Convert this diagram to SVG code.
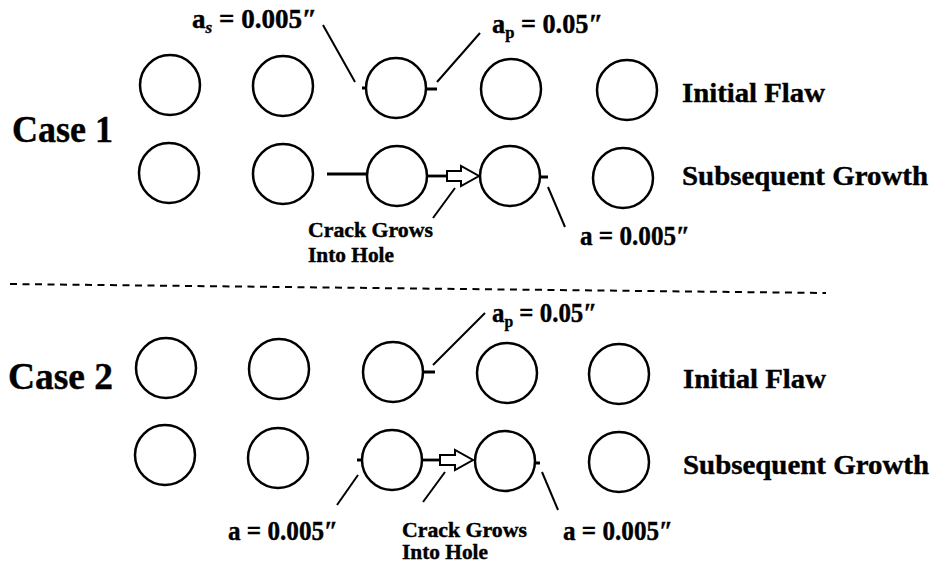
<svg xmlns="http://www.w3.org/2000/svg" width="930" height="563" viewBox="0 0 930 563" font-family="'Liberation Serif', 'DejaVu Serif', 'Times New Roman', serif">
<style>
  .hole { fill: none; stroke: #000; stroke-width: 2.5; }
  .lead { stroke: #000; stroke-width: 2; fill: none; }
  .tick { stroke: #000; stroke-width: 3; fill: none; }
  .crk { stroke: #000; stroke-width: 2.8; fill: none; }
  .arr { fill: #fff; stroke: #000; stroke-width: 2; stroke-linejoin: miter; }
  .dash { stroke: #000; stroke-width: 2; stroke-dasharray: 7 5.5; fill: none; }
  text { font-family: 'Liberation Serif', 'DejaVu Serif', 'Times New Roman', serif; font-weight: bold; fill: #000; stroke: #000; stroke-width: 0.4; }
  .lab { font-size: 27px; }
  .sub { font-size: 17px; }
  .crack { font-size: 20px; }
  .side { font-size: 28px; }
  .case { font-size: 38px; }
</style>
<rect width="930" height="563" fill="#fff"/>

<!-- Case 1 -->
<g id="case1-label"><text class="case" x="12" y="142" textLength="101" lengthAdjust="spacingAndGlyphs">Case 1</text></g>
<g id="case1-initial">
  <circle class="hole" cx="170" cy="85" r="30"/>
  <circle class="hole" cx="283" cy="86" r="30"/>
  <circle class="hole" cx="396" cy="88" r="30"/>
  <circle class="hole" cx="511" cy="89" r="30"/>
  <circle class="hole" cx="627" cy="90" r="30"/>
  <text class="side" x="682" y="102" textLength="143" lengthAdjust="spacingAndGlyphs">Initial Flaw</text>
</g>
<g id="case1-growth">
  <circle class="hole" cx="169" cy="173" r="30"/>
  <circle class="hole" cx="283" cy="174" r="30"/>
  <circle class="hole" cx="397" cy="176" r="30"/>
  <circle class="hole" cx="510" cy="176" r="30"/>
  <circle class="hole" cx="623" cy="178" r="30"/>
  <text class="side" x="682" y="185" textLength="246" lengthAdjust="spacingAndGlyphs">Subsequent Growth</text>
</g>
<g id="case1-labels">
  <text class="lab" x="192" y="28" textLength="125" lengthAdjust="spacingAndGlyphs">a<tspan class="sub" font-style="italic" dy="5">s</tspan><tspan dy="-5"> = 0.005″</tspan></text>
  <text class="lab" x="492" y="33" textLength="111" lengthAdjust="spacingAndGlyphs">a<tspan class="sub" dy="5">p</tspan><tspan dy="-5"> = 0.05″</tspan></text>
  <text class="crack" x="308" y="237" textLength="125" lengthAdjust="spacingAndGlyphs">Crack Grows</text>
  <text class="crack" x="308" y="262" textLength="86" lengthAdjust="spacingAndGlyphs">Into Hole</text>
  <text class="lab" x="580" y="245" textLength="110" lengthAdjust="spacingAndGlyphs">a = 0.005″</text>
</g>

<g id="connectors">
  <!-- Case 1 -->
  <line class="lead" x1="323" y1="25" x2="355" y2="82"/>
  <line class="lead" x1="437" y1="82" x2="480" y2="33"/>
  <line class="tick" x1="362" y1="88" x2="367" y2="88"/>
  <line class="tick" x1="426" y1="89" x2="437" y2="89"/>
  <line class="crk" x1="327" y1="174" x2="367" y2="174"/>
  <line class="crk" x1="427" y1="176" x2="447" y2="176"/>
  <polygon class="arr" points="447,171 461,171 461,166 479,176 461,186 461,181 447,181"/>
  <line class="tick" x1="540" y1="177" x2="548" y2="177"/>
  <line class="lead" x1="455" y1="188" x2="433" y2="218"/>
  <line class="lead" x1="548" y1="187" x2="565" y2="227"/>

  <!-- divider -->
  <line class="dash" x1="10" y1="284" x2="826" y2="293"/>

  <!-- Case 2 -->
  <line class="tick" x1="423" y1="372" x2="435" y2="372"/>
  <line class="lead" x1="433" y1="365" x2="485" y2="313"/>
  <line class="tick" x1="357" y1="460" x2="362" y2="460"/>
  <line class="crk" x1="422" y1="460" x2="440" y2="460"/>
  <polygon class="arr" points="440,455 455,455 455,450 473,460 455,470 455,465 440,465"/>
  <line class="tick" x1="535" y1="463" x2="540" y2="463"/>
  <line class="lead" x1="358" y1="475" x2="337" y2="505"/>
  <line class="lead" x1="445" y1="472" x2="423" y2="502"/>
  <line class="lead" x1="542" y1="472" x2="558" y2="510"/>
</g>

<!-- Case 2 -->
<g id="case2-label"><text class="case" x="8" y="389" textLength="105" lengthAdjust="spacingAndGlyphs">Case 2</text></g>
<g id="case2-initial">
  <circle class="hole" cx="166" cy="368" r="30"/>
  <circle class="hole" cx="279" cy="369" r="30"/>
  <circle class="hole" cx="393" cy="372" r="30"/>
  <circle class="hole" cx="507" cy="373" r="30"/>
  <circle class="hole" cx="619" cy="374" r="30"/>
  <text class="side" x="683" y="388" textLength="143" lengthAdjust="spacingAndGlyphs">Initial Flaw</text>
</g>
<g id="case2-growth">
  <circle class="hole" cx="165" cy="455" r="30"/>
  <circle class="hole" cx="278" cy="458" r="30"/>
  <circle class="hole" cx="392" cy="460" r="30"/>
  <circle class="hole" cx="505" cy="461" r="30"/>
  <circle class="hole" cx="619" cy="462" r="30"/>
  <text class="side" x="683" y="474" textLength="246" lengthAdjust="spacingAndGlyphs">Subsequent Growth</text>
</g>
<g id="case2-labels">
  <text class="lab" x="492" y="322" textLength="105" lengthAdjust="spacingAndGlyphs">a<tspan class="sub" dy="5">p</tspan><tspan dy="-5"> = 0.05″</tspan></text>
  <text class="lab" x="228" y="540" textLength="110" lengthAdjust="spacingAndGlyphs">a = 0.005″</text>
  <text class="crack" x="402" y="537" textLength="125" lengthAdjust="spacingAndGlyphs">Crack Grows</text>
  <text class="crack" x="402" y="559" textLength="86" lengthAdjust="spacingAndGlyphs">Into Hole</text>
  <text class="lab" x="563" y="540" textLength="110" lengthAdjust="spacingAndGlyphs">a = 0.005″</text>
</g>
</svg>
